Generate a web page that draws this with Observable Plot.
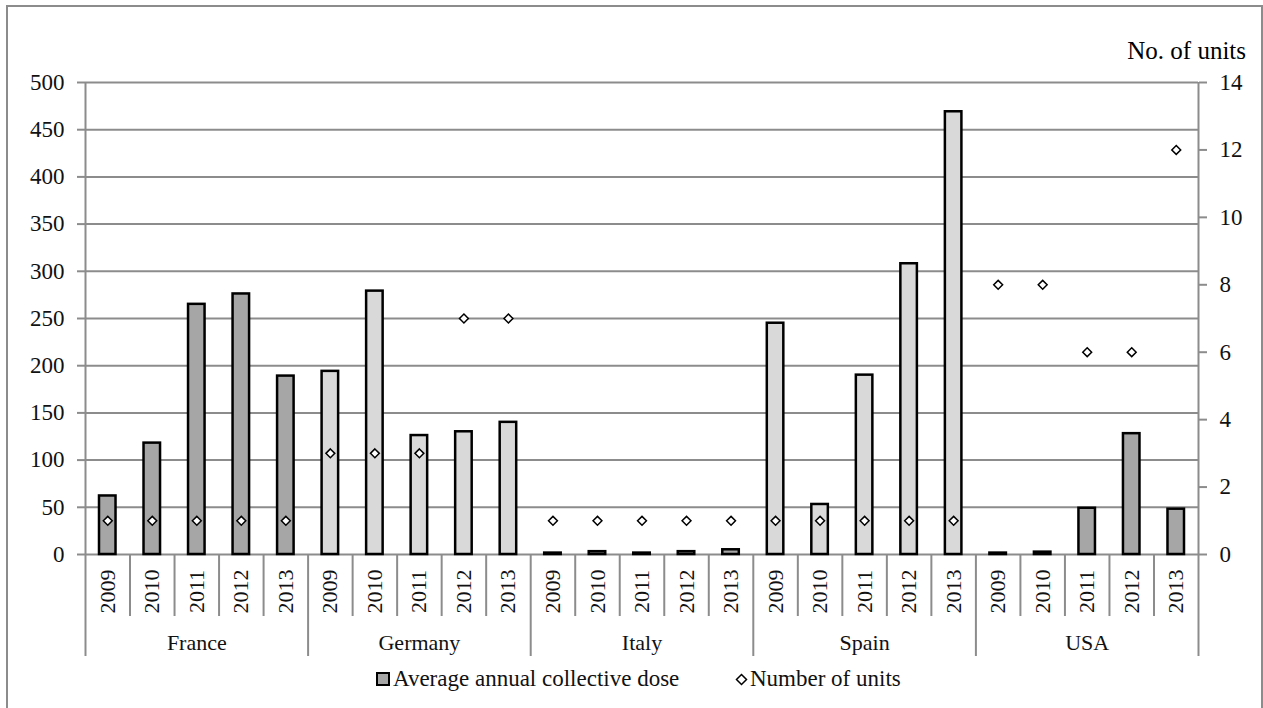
<!DOCTYPE html>
<html><head><meta charset="utf-8">
<script src="https://cdn.jsdelivr.net/npm/d3@7"></script>
<script src="https://cdn.jsdelivr.net/npm/@observablehq/plot@0.6"></script>
<style>
html,body{margin:0;padding:0;background:#fff;}
body{width:1263px;height:708px;position:relative;overflow:hidden;font-family:"Liberation Serif","DejaVu Serif",serif;color:#111;}
#frame{position:absolute;left:6px;top:5px;width:1257px;height:760px;border:2px solid #8c8c8c;box-sizing:border-box;}
#chart{position:absolute;left:0;top:0;}
#unitsLabel{position:absolute;right:17px;top:37px;font-size:25px;line-height:28px;color:#000;}
.leg{position:absolute;top:666px;display:flex;align-items:center;font-size:23px;line-height:26px;white-space:nowrap;}
.sw{width:10px;height:10px;border:2px solid #000;background:#a6a6a6;margin-right:3px;}
</style></head><body>
<div id="frame"></div>
<div id="chart"></div>
<div id="unitsLabel">No. of units</div>
<div class="leg" style="left:376px"><span class="sw"></span><span>Average annual collective dose</span></div>
<div class="leg" style="left:735px"><svg width="13" height="13" style="margin-right:2px"><path d="M6.5,1.5L11.5,6.5L6.5,11.5L1.5,6.5Z" fill="#fff" stroke="#000" stroke-width="1.5"/></svg><span>Number of units</span></div>
<script>
const countries = ["France", "Germany", "Italy", "Spain", "USA"];
const years = [2009, 2010, 2011, 2012, 2013];
const doseFrance  = [62, 118, 265, 276, 189];
const doseGermany = [194, 279, 126, 130, 140];
const doseItaly   = [1.5, 3, 1.5, 3, 5];
const doseSpain   = [245, 53, 190, 308, 469];
const doseUSA     = [1.5, 2.5, 49, 128, 48];
const unitsFrance  = [1, 1, 1, 1, 1];
const unitsGermany = [3, 3, 3, 7, 7];
const unitsItaly   = [1, 1, 1, 1, 1];
const unitsSpain   = [1, 1, 1, 1, 1];
const unitsUSA     = [8, 8, 6, 6, 12];
const doseTicks = [0, 50, 100, 150, 200, 250, 300, 350, 400, 450, 500];
const unitTicks = [0, 2, 4, 6, 8, 10, 12, 14];

const doseByCountry = {France: doseFrance, Germany: doseGermany, Italy: doseItaly, Spain: doseSpain, USA: doseUSA};
const unitsByCountry = {France: unitsFrance, Germany: unitsGermany, Italy: unitsItaly, Spain: unitsSpain, USA: unitsUSA};
const fillByCountry = {France: "#a6a6a6", Germany: "#d9d9d9", Italy: "#a6a6a6", Spain: "#d9d9d9", USA: "#a6a6a6"};

const rows = [];
countries.forEach((c, ci) => years.forEach((yr, yi) => rows.push({
  i: ci * years.length + yi, country: c, year: yr,
  dose: doseByCountry[c][yi], units: unitsByCountry[c][yi]
})));
const n = rows.length;
const k = 500 / 14; // secondary axis: units -> dose scale
const gray = "#8c8c8c";
const font = "Liberation Serif, DejaVu Serif, serif";

const boundaries = d3.range(n + 1);
const yearBounds = boundaries.filter(b => b % years.length !== 0);
const countryBounds = boundaries.filter(b => b % years.length === 0);

const chart = Plot.plot({
  width: 1263, height: 665,
  marginLeft: 85, marginRight: 65, marginTop: 82, marginBottom: 111,
  style: {fontFamily: font, fontSize: "23px", color: "#111", background: "transparent", overflow: "visible"},
  x: {domain: [0, n], axis: null},
  y: {domain: [0, 500], axis: null},
  color: {type: "identity"},
  marks: [
    Plot.gridY(doseTicks, {stroke: gray, strokeOpacity: 1, strokeWidth: 2}),
    Plot.axisY(doseTicks, {anchor: "left", tickSize: 8, tickPadding: 13, stroke: gray, strokeWidth: 2, fill: "#111", label: null, fontFamily: font, fontSize: 23}),
    Plot.axisY(unitTicks.map(u => u * k), {anchor: "right", tickSize: 8, tickPadding: 13, stroke: gray, strokeWidth: 2, fill: "#111", label: null, fontFamily: font, fontSize: 23, tickFormat: d => String(Math.round(d / k))}),
    Plot.ruleX([0, n], {stroke: gray, strokeWidth: 2}),
    Plot.ruleX(yearBounds, {x: d => d, y1: 0, y2: 0, insetBottom: -62, stroke: gray, strokeWidth: 2}),
    Plot.ruleX(countryBounds, {x: d => d, y1: 0, y2: 0, insetBottom: -102, stroke: gray, strokeWidth: 2}),
    Plot.rectY(rows, {x1: d => d.i, x2: d => d.i + 1, y: "dose", insetLeft: 14, insetRight: 14,
      fill: d => fillByCountry[d.country], stroke: "#000", strokeWidth: 2.5}),
    Plot.dot(rows, {x: d => d.i + 0.5, y: d => d.units * k, symbol: "diamond2", r: 4,
      fill: "#fff", stroke: "#000", strokeWidth: 1.5}),
    Plot.text(rows, {x: d => d.i + 0.5, y: 0, text: d => String(d.year), rotate: -90, dy: 37,
      textAnchor: "middle", lineAnchor: "middle", fill: "#111", fontSize: 22, fontFamily: font}),
    Plot.text(countries, {x: (d, i) => i * years.length + years.length / 2, y: 0, text: d => d, dy: 88,
      textAnchor: "middle", lineAnchor: "middle", fill: "#111", fontSize: 22, fontFamily: font})
  ]
});
document.getElementById("chart").appendChild(chart);
</script>
</body></html>
